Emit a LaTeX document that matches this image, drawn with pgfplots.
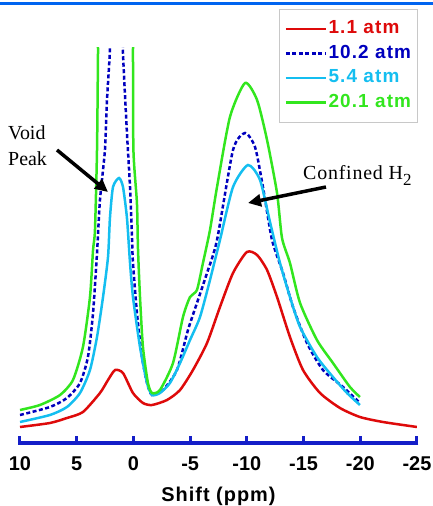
\documentclass[border=0pt]{standalone}
\usepackage{pgfplots}
\pgfplotsset{compat=1.18}
\usepackage{fontspec}
\setmainfont{Liberation Sans}
\newfontfamily\seriffont{Liberation Serif}
\usetikzlibrary{arrows.meta}
\definecolor{cred}{RGB}{222,10,10}
\definecolor{cblue}{RGB}{0,0,190}
\definecolor{ccyan}{RGB}{20,190,240}
\definecolor{cgreen}{RGB}{50,230,30}
\definecolor{axisblue}{RGB}{20,30,200}
\definecolor{topblue}{RGB}{0,100,240}
\begin{document}
\begin{tikzpicture}
\path[use as bounding box] (0,0) rectangle (433bp,506bp);
\draw[topblue, line width=3bp] (0,502.5bp) -- (433bp,502.5bp);
\begin{axis}[
  at={(20bp,63bp)}, anchor=south west,
  scale only axis, width=397bp, height=395bp,
  x dir=reverse, xmin=-25, xmax=10, ymin=0, ymax=395,
  axis x line*=bottom, axis y line=none,
  x axis line style={-, line width=3bp, color=axisblue, shorten <=-1.5bp, shorten >=-1.5bp},
  xtick={10,5,0,-5,-10,-15,-20,-25},
  tick align=inside, major tick length=7bp,
  xtick style={line width=3bp, color=axisblue},
  /pgf/number format/assume math mode=true,
  xticklabel style={font=\bfseries\fontsize{20}{24}\selectfont, text=black, yshift=-10bp},
  xlabel={Shift (ppm)},
  xlabel style={font=\bfseries\fontsize{20}{24}\selectfont\addfontfeature{LetterSpace=5}, yshift=-10bp},
  legend cell align=left,
  legend image code/.code={\draw[#1] (0bp,0bp) -- (40bp,0bp);},
  legend style={at={(1.0025,1.0987)}, anchor=north east, draw={rgb,255:red,200;green,200;blue,200}, line width=0.8bp,
    fill=white, font=\bfseries\fontsize{19}{21}\selectfont\addfontfeature{LetterSpace=6},
    nodes={inner sep=1.5bp, text height=13bp, text depth=3.5bp}, row sep=5bp,
    inner xsep=5bp, inner ysep=10bp},
  every axis plot/.append style={smooth, tension=0.4, line width=2.5bp},
]
\addplot[cred] table {
x y
10.00 16
7.36 20
5.86 25
4.45 31
2.95 50
2.24 63
1.62 73
0.92 70
0.04 50
-0.84 40
-1.64 38
-2.96 43
-4.11 53
-5.25 73
-6.49 100
-7.63 136
-8.78 170
-10.0 191
-10.9 188
-11.78 173
-12.66 146
-13.80 106
-14.95 73
-16.45 50
-18.21 35
-19.97 26
-22.00 21
-25.00 16
};
\addlegendentry{\textcolor{cred}{1.1 atm}}
\addplot[cblue, dash pattern=on 4bp off 2.5bp] table {
x y
10.00 28
7.36 36
5.86 45
4.71 60
4.01 86
3.56 130
3.21 190
2.95 243
2.51 293
2.33 343
2.07 393
2.05 430
0.94 430
0.92 390
0.57 310
0.30 256
0.12 203
0.04 180
-0.31 130
-0.76 86
-1.20 60
-1.64 48
-2.61 53
-3.84 73
-4.81 113
-5.60 140
-6.49 170
-7.37 203
-8.78 293
-9.84 310
-10.72 296
-11.42 256
-12.22 203
-13.19 170
-14.07 136
-15.30 100
-16.71 73
-18.48 56
-19.97 40
};
\addlegendentry{\textcolor{cblue}{10.2 atm}}
\addplot[ccyan] table {
x y
10.00 21
7.36 28
5.86 36
4.71 50
3.83 73
3.21 106
2.68 146
2.24 186
2.07 225
1.80 256
1.27 265
0.92 256
0.57 225
0.30 180
0.04 146
-0.58 96
-1.20 60
-1.64 48
-2.34 50
-3.22 60
-4.11 80
-4.99 103
-5.87 126
-6.75 163
-7.63 203
-8.78 256
-10.10 278
-11.16 263
-12.04 221
-12.92 180
-13.80 146
-14.69 116
-16.18 86
-17.59 66
-18.83 50
-19.97 38
};
\addlegendentry{\textcolor{ccyan}{5.4 atm}}
\addplot[cgreen] table {
x y
10.00 33
8.24 38
6.47 48
5.33 63
4.45 96
3.83 146
3.56 193
3.39 213
3.21 293
3.12 393
3.10 430
0.06 430
0.04 393
0.00 293
-0.31 240
-0.40 195
-0.58 146
-0.84 96
-1.28 60
-1.64 50
-2.34 53
-3.49 80
-4.37 126
-4.99 146
-5.60 153
-6.13 180
-6.75 213
-7.37 256
-8.51 326
-9.84 360
-10.90 343
-11.78 303
-12.66 250
-13.10 205
-13.80 180
-14.69 140
-16.18 103
-17.59 80
-19.09 56
-19.97 46
};
\addlegendentry{\textcolor{cgreen}{20.1 atm}}
\end{axis}
\begin{scope}[yshift=506bp, x=1bp, y=-1bp]
\node[anchor=west, font=\seriffont\fontsize{20}{22}\selectfont, inner sep=0] at (8,133) {Void};
\node[anchor=west, font=\seriffont\fontsize{20}{22}\selectfont, inner sep=0] at (8,159) {Peak};
\draw[line width=3.5bp, -{Triangle[length=13bp,width=12bp]}] (57,150) -- (108,192);
\node[anchor=base west, font=\seriffont\fontsize{20}{22}\selectfont\addfontfeature{LetterSpace=4}, inner sep=0] at (303,180) {Confined H\raisebox{-6bp}{\fontsize{17}{17}\selectfont 2}};
\draw[line width=3.5bp, -{Triangle[length=13bp,width=12bp]}] (326,187) -- (248,203);
\end{scope}
\end{tikzpicture}
\end{document}
